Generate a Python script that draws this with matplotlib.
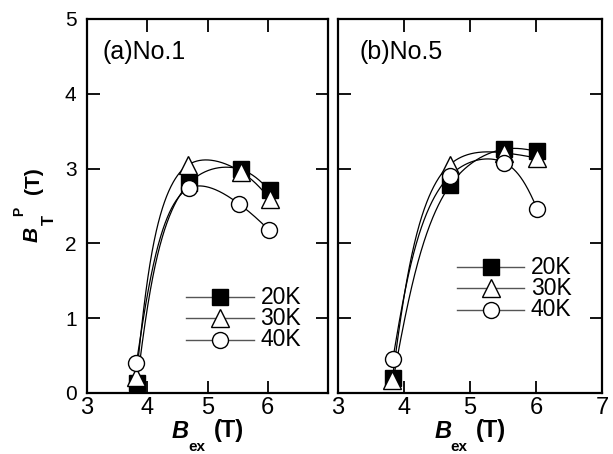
import matplotlib

matplotlib.use("Agg")
import matplotlib.pyplot as plt
import numpy as np

plt.rcParams["font.family"] = ["Liberation Sans", "DejaVu Sans"]

# external field B_ex [T] and peak trapped field B_T^P [T]
temps = ["20K", "30K", "40K"]

bex_a = {
    "20K": [3.83, 4.70, 5.55, 6.03],
    "30K": [3.82, 4.68, 5.55, 6.03],
    "40K": [3.82, 4.70, 5.52, 6.02],
}
btp_a = {
    "20K": [0.13, 2.81, 2.99, 2.71],
    "30K": [0.22, 3.05, 2.96, 2.60],
    "40K": [0.40, 2.74, 2.53, 2.18],
}

bex_b = {
    "20K": [3.84, 4.70, 5.52, 6.02],
    "30K": [3.82, 4.69, 5.52, 6.02],
    "40K": [3.83, 4.69, 5.52, 6.02],
}
btp_b = {
    "20K": [0.20, 2.78, 3.26, 3.23],
    "30K": [0.17, 3.05, 3.21, 3.14],
    "40K": [0.45, 2.90, 3.08, 2.46],
}

styles = {
    "20K": dict(marker="s", ms=11, mfc="black", mec="black"),
    "30K": dict(marker="^", ms=12.5, mfc="white", mec="black"),
    "40K": dict(marker="o", ms=11.5, mfc="white", mec="black"),
}


def _nat_spline(t, v, ts):
    k = len(t)
    h = np.diff(t)
    A = np.zeros((k, k))
    r = np.zeros(k)
    A[0, 0] = A[-1, -1] = 1.0
    for i in range(1, k - 1):
        A[i, i - 1] = h[i - 1]
        A[i, i] = 2 * (h[i - 1] + h[i])
        A[i, i + 1] = h[i]
        r[i] = 6 * ((v[i + 1] - v[i]) / h[i] - (v[i] - v[i - 1]) / h[i - 1])
    m = np.linalg.solve(A, r)
    idx = np.clip(np.searchsorted(t, ts) - 1, 0, k - 2)
    t0, t1 = t[idx], t[idx + 1]
    hh = t1 - t0
    a = (t1 - ts) / hh
    b = (ts - t0) / hh
    return (a * v[idx] + b * v[idx + 1]
            + ((a**3 - a) * m[idx] + (b**3 - b) * m[idx + 1]) * hh**2 / 6)


def smooth_curve(x, y, sx, sy, n=300):
    """Parametric cubic spline, centripetal knots in screen units."""
    x = np.asarray(x, float)
    y = np.asarray(y, float)
    d = np.hypot(np.diff(x) * sx, np.diff(y) * sy) ** 0.5
    t = np.concatenate([[0], np.cumsum(d)])
    ts = np.linspace(0, t[-1], n)
    return _nat_spline(t, x, ts), _nat_spline(t, y, ts)


W, H = 613, 454
fig = plt.figure(figsize=(W / 100, H / 100), dpi=100)
ax_a = fig.add_axes([87 / W, 1 - 393 / H, 241 / W, 374 / H])
ax_b = fig.add_axes([338 / W, 1 - 393 / H, 264 / W, 374 / H])


def px(x, y):
    return x / W, 1 - y / H


# legend rows: (line x0, x1, marker x, text x, row y values)
legends = {
    "a": (4.64, 5.77, 5.21, 5.88, [1.28, 1.00, 0.71]),
    "b": (4.80, 5.82, 5.32, 5.92, [1.68, 1.40, 1.11]),
}
tags = {"a": ("(a)No.1", 3.25), "b": ("(b)No.5", 3.32)}

for ax, bex, btp, key, wpx in [
    (ax_a, bex_a, btp_a, "a", 241),
    (ax_b, bex_b, btp_b, "b", 264),
]:
    sx, sy = wpx / 4.0, 374 / 5.0
    for t in temps:
        xs, ys = smooth_curve(bex[t], btp[t], sx, sy)
        ax.plot(xs, ys, color="black", lw=0.9, zorder=2)
    for t in temps:
        ax.plot(bex[t], btp[t], ls="none", mew=1.0, zorder=3, **styles[t])

    lx0, lx1, mx, tx, rows = legends[key]
    for t, ry in zip(temps, rows):
        ax.plot([lx0, lx1], [ry, ry], color="#555555", lw=1.0, zorder=2)
        ax.plot([mx], [ry], ls="none", mew=1.0, zorder=3, **styles[t])
        ax.text(tx, ry, t, fontsize=16.5, va="center", ha="left")

    label, lx = tags[key]
    ax.text(lx, 4.56, label, fontsize=18, va="center", ha="left")

    ax.set_xlim(3, 7)
    ax.set_ylim(0, 5)
    ax.set_xticks([3, 4, 5, 6, 7])
    ax.set_yticks([0, 1, 2, 3, 4, 5])
    ax.tick_params(direction="in", length=9, width=1.3, top=True, right=True)
    ax.tick_params(axis="x", labelsize=17, pad=3)
    ax.tick_params(axis="y", labelsize=15, pad=7.5)
    for s in ax.spines.values():
        s.set_linewidth(1.6)

    # x-axis title: bold italic B with "ex" subscript, then (T)
    cx = (87 + 328) / 2 if key == "a" else (338 + 602) / 2
    fig.text(*px(cx - 27, 431), "B", fontsize=17, fontweight="bold",
             fontstyle="italic", ha="center", va="center")
    fig.text(*px(cx - 11, 447), "ex", fontsize=11, fontweight="bold",
             ha="center", va="center")
    fig.text(*px(cx + 21, 431), "(T)", fontsize=17, fontweight="bold",
             ha="center", va="center")

ax_a.set_xticklabels(["3", "4", "5", "6", ""])
ax_b.set_yticklabels([])

# y-axis title: B_T^P (T), rotated
fig.text(*px(32, 234), "B", fontsize=15, fontweight="bold", fontstyle="italic",
         rotation=90, ha="center", va="center")
fig.text(*px(49, 220), "T", fontsize=12, fontweight="bold",
         rotation=90, ha="center", va="center")
fig.text(*px(19, 211), "P", fontsize=10, fontweight="bold",
         rotation=90, ha="center", va="center")
fig.text(*px(33, 181), "(T)", fontsize=15, fontweight="bold",
         rotation=90, ha="center", va="center")

fig.savefig("out.png", dpi=100)
